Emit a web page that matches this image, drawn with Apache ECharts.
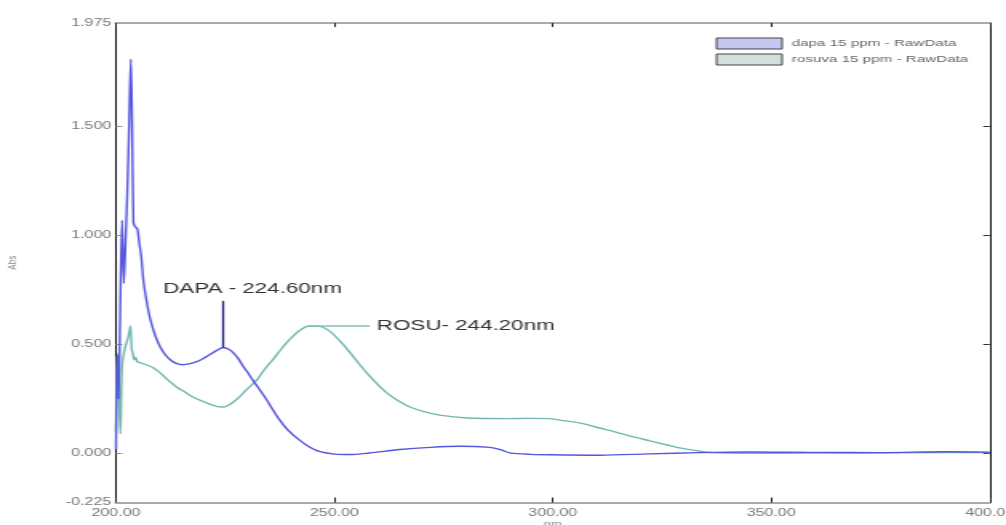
<!DOCTYPE html>
<html>
<head>
<meta charset="utf-8">
<script src="https://cdn.jsdelivr.net/npm/echarts@6/dist/echarts.min.js"></script>
<style>
html,body{margin:0;padding:0;background:#fff;overflow:hidden;width:1006px;height:525px;}
#c{position:absolute;left:0;top:0;width:629px;height:525px;transform:scaleX(1.59936);transform-origin:0 0;}
</style>
</head>
<body>
<div id="c"></div>
<script>
// ---- data ----
const xTicks = [200, 250, 300, 350, 400];
const yLabels = [-0.225, 0, 0.5, 1, 1.5, 1.975];
const yTicks = [0, 0.5, 1, 1.5];
const seriesNames = ['dapa 15 ppm - RawData', 'rosuva 15 ppm - RawData'];

const dapaX = [200.0,200.3,200.6,201.0,201.4,201.8,202.2,202.6,203.0,203.4,203.7,204.0,204.4,204.9,205.3,205.8,206.3,207.0,207.8,209.0,210.1,211.2,212.4,213.8,215.3,217.0,218.5,220.0,221.5,223.0,224.6,225.8,226.8,228.0,229.1,230.2,231.4,233.0,234.6,236.0,237.5,239.5,242.1,244.5,246.7,250.0,253.5,258.0,265.0,272.0,278.7,285.6,288.0,290.2,295.0,299.3,310.8,322.0,333.6,345.1,360.0,375.0,390.0,400.0];
const dapaY = [0.02,0.45,0.25,0.70,1.07,0.78,0.98,1.20,1.50,1.81,1.50,1.06,1.04,1.03,0.97,0.90,0.79,0.70,0.62,0.54,0.49,0.455,0.43,0.413,0.407,0.412,0.421,0.436,0.454,0.472,0.486,0.478,0.463,0.435,0.40,0.37,0.335,0.29,0.243,0.198,0.153,0.105,0.06,0.027,0.008,-0.003,-0.005,0.002,0.018,0.028,0.033,0.028,0.018,0.003,-0.004,-0.006,-0.008,-0.002,0.004,0.007,0.005,0.004,0.008,0.006];

const rosuX = [200.0,200.2,200.5,200.8,201.0,201.4,202.0,202.6,203.0,203.3,203.6,203.9,204.2,204.5,204.9,205.5,207.1,208.6,210.1,212.0,214.0,216.0,217.6,220.0,223.0,224.5,225.4,226.8,228.4,230.0,232.3,234.0,235.9,237.8,239.8,242.1,244.2,246.7,249.0,251.3,253.5,255.5,257.4,260.0,262.0,264.5,267.3,270.5,274.1,280.3,289.5,295.0,299.3,301.6,306.9,310.5,314.6,318.0,322.2,326.0,329.7,335.2,340.0,350.0,370.0,390.0,400.0];
const rosuY = [0.10,0.40,0.46,0.20,0.09,0.40,0.48,0.52,0.55,0.585,0.48,0.455,0.43,0.44,0.42,0.417,0.406,0.392,0.37,0.335,0.303,0.279,0.259,0.238,0.216,0.213,0.218,0.235,0.262,0.295,0.338,0.385,0.43,0.478,0.523,0.565,0.585,0.583,0.56,0.515,0.465,0.415,0.37,0.315,0.278,0.243,0.213,0.192,0.176,0.163,0.160,0.161,0.160,0.153,0.137,0.118,0.097,0.078,0.058,0.040,0.023,0.006,0.002,0.001,0.002,0.004,0.004];

// annotations
const dapaPeak = {nm: 224.6, abs: 0.486, top: 0.70, text: 'DAPA - 224.60nm', textNm: 210.8, textAbs: 0.755};
const rosuPeak = {nm: 244.2, abs: 0.585, end: 258.1, text: 'ROSU- 244.20nm', textNm: 259.7, textAbs: 0.585};

const pairs = (xs, ys) => xs.map((x, i) => [x, ys[i]]);
const FONT = 'Liberation Sans, Arial, sans-serif';

const labelStyle = {show: true, position: 'right', distance: 0, fontSize: 14, color: '#333', fontFamily: FONT};

const chart = echarts.init(document.getElementById('c'), null, {renderer: 'canvas', width: 629, height: 525});
chart.setOption({
  animation: false,
  backgroundColor: '#fff',
  grid: {left: 72.5, right: 10.25, top: 23, bottom: 22.5, containLabel: false, outerBoundsMode: 'none'},
  legend: {
    left: 447.5, top: 37.5, orient: 'vertical', itemWidth: 41, itemHeight: 11, itemGap: 4, padding: 0,
    textStyle: {fontSize: 9.5, lineHeight: 11, color: '#666', fontFamily: FONT, padding: [0, 0, 0, 1]},
    data: [
      {name: seriesNames[0], icon: 'rect', itemStyle: {color: '#c6c6f1', borderColor: '#444', borderWidth: 1}},
      {name: seriesNames[1], icon: 'rect', itemStyle: {color: '#d0e1db', borderColor: '#444', borderWidth: 1}}
    ]
  },
  xAxis: [{
    type: 'value', min: 200, max: 400, interval: 50, position: 'bottom',
    name: 'nm', nameLocation: 'middle', nameGap: 17, nameMoveOverlap: false,
    nameTextStyle: {fontSize: 8, color: '#888', fontFamily: FONT},
    axisLine: {show: true, onZero: false, lineStyle: {color: '#aaa', width: 2}},
    axisTick: {show: true, inside: true, length: 5, lineStyle: {color: '#222', width: 1}},
    axisLabel: {show: true, margin: 6, fontSize: 10, color: '#777', fontFamily: FONT,
      formatter: v => v.toFixed(2), showMinLabel: true, showMaxLabel: true},
    splitLine: {show: false}
  }, {
    type: 'value', min: 200, max: 400, interval: 50, position: 'top',
    axisLine: {show: true, onZero: false, lineStyle: {color: '#aaa', width: 2}},
    axisTick: {show: true, inside: true, length: 4, lineStyle: {color: '#222', width: 1}},
    axisLabel: {show: false}, splitLine: {show: false}
  }],
  yAxis: [{
    type: 'value', min: -0.225, max: 1.975, position: 'left',
    name: 'Abs', nameLocation: 'middle', nameGap: 61, nameRotate: 90, nameMoveOverlap: false,
    nameTextStyle: {fontSize: 8, color: '#888', fontFamily: FONT},
    axisLine: {show: true, onZero: false, lineStyle: {color: '#111', width: 1}},
    axisTick: {show: true, inside: true, length: 4, customValues: yTicks, lineStyle: {color: '#999', width: 1}},
    axisLabel: {show: true, margin: 3, fontSize: 10, color: '#777', fontFamily: FONT,
      customValues: yLabels, formatter: v => v.toFixed(3)},
    splitLine: {show: false}
  }, {
    type: 'value', min: -0.225, max: 1.975, position: 'right',
    axisLine: {show: true, onZero: false, lineStyle: {color: '#111', width: 1}},
    axisTick: {show: true, inside: true, length: 4, customValues: yTicks, lineStyle: {color: '#333', width: 1}},
    axisLabel: {show: false}, splitLine: {show: false}
  }],
  series: [{
    name: seriesNames[0], type: 'line', xAxisIndex: 0, yAxisIndex: 0,
    data: pairs(dapaX, dapaY), showSymbol: false, symbol: 'none', smooth: 0.3,
    lineStyle: {width: 1.4, color: '#5656de'}, itemStyle: {color: '#5656de'}, z: 3
  }, {
    name: seriesNames[1], type: 'line', xAxisIndex: 0, yAxisIndex: 0,
    data: pairs(rosuX, rosuY), showSymbol: false, symbol: 'none', smooth: 0.3,
    lineStyle: {width: 1.4, color: '#72b8b0'}, itemStyle: {color: '#72b8b0'}, z: 2
  }, {
    name: 'annotations', type: 'line', xAxisIndex: 0, yAxisIndex: 0, data: [], z: 4,
    markLine: {
      silent: true, symbol: ['none', 'none'], label: {show: false}, animation: false,
      data: [
        [{coord: [dapaPeak.nm, dapaPeak.abs], lineStyle: {color: '#1f1f8f', width: 1.3, type: 'solid'}},
         {coord: [dapaPeak.nm, dapaPeak.top]}],
        [{coord: [rosuPeak.nm, rosuPeak.abs], lineStyle: {color: '#7fc2ba', width: 1.5, type: 'solid'}},
         {coord: [rosuPeak.end, rosuPeak.abs]}]
      ]
    },
    markPoint: {
      silent: true, symbol: 'circle', symbolSize: 0, itemStyle: {color: 'rgba(0,0,0,0)'},
      label: labelStyle, animation: false,
      data: [
        {coord: [dapaPeak.textNm, dapaPeak.textAbs], label: Object.assign({}, labelStyle, {formatter: dapaPeak.text})},
        {coord: [rosuPeak.textNm, rosuPeak.textAbs], label: Object.assign({}, labelStyle, {formatter: rosuPeak.text})}
      ]
    }
  }]
});
</script>
</body>
</html>
